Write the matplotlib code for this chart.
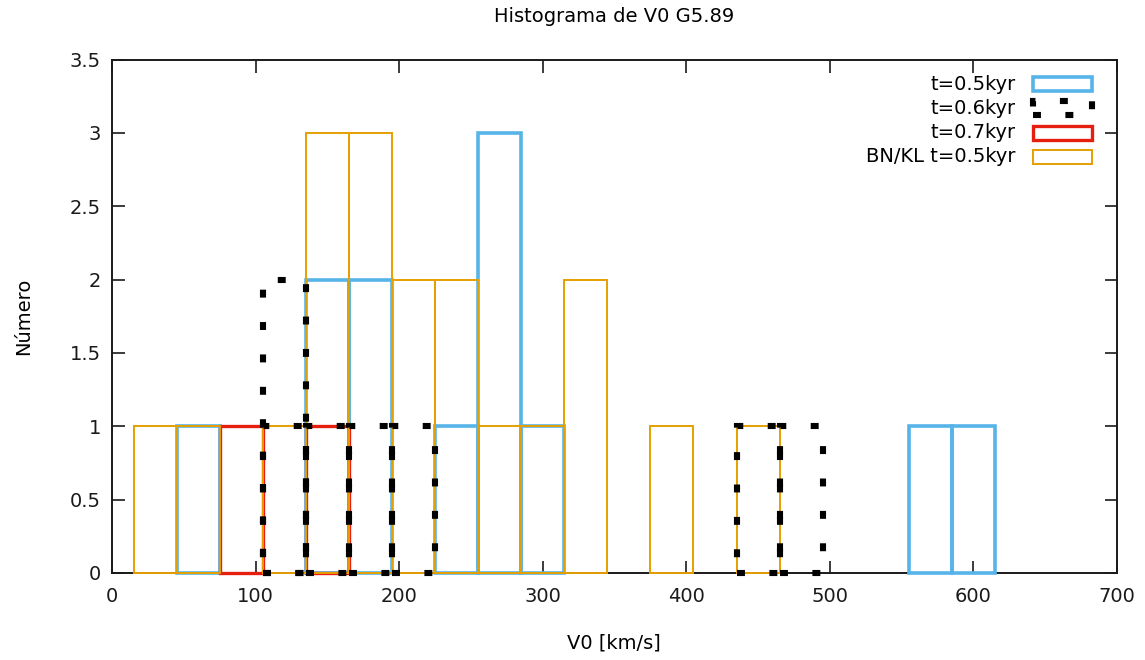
import matplotlib
matplotlib.use("Agg")
import matplotlib.pyplot as plt
from matplotlib.patches import Rectangle

plt.rcParams['font.family'] = ['DejaVu Sans']
plt.rcParams['font.size'] = 14

W, H = 1145, 660
bin_width = 30

# bin centres (km/s) and counts for each run
v_05 = [60, 150, 180, 240, 270, 300, 570, 600]
n_05 = [1, 2, 2, 1, 3, 1, 1, 1]

v_06 = [120, 120, 150, 180, 210, 450, 480]
n_06 = [2, 1, 1, 1, 1, 1, 1]

v_07 = [90, 150]
n_07 = [1, 1]

v_bnkl = [30, 60, 120, 150, 180, 210, 240, 270, 300, 330, 390, 450]
n_bnkl = [1, 1, 1, 3, 3, 2, 2, 1, 1, 2, 1, 1]

labels = ["t=0.5kyr", "t=0.6kyr", "t=0.7kyr", "BN/KL t=0.5kyr"]
xticks = [0, 100, 200, 300, 400, 500, 600, 700]
yticks = [0, 0.5, 1, 1.5, 2, 2.5, 3, 3.5]

blue = "#56b4e9"
red = "#e51e10"
orange = "#e69f00"
dots = (0, (1.3, 4.0))

styles = [
    dict(edgecolor=blue, linewidth=2.6, zorder=2),
    dict(edgecolor="black", linewidth=4.4, linestyle=dots, zorder=5),
    dict(edgecolor=red, linewidth=2.4, zorder=3),
    dict(edgecolor=orange, linewidth=1.4, zorder=4),
]

fig = plt.figure(figsize=(W / 100, H / 100), dpi=100)
ax = fig.add_axes([112 / W, 1 - 573 / H, (1117 - 112) / W, (573 - 59.5) / H])

series = [(v_05, n_05), (v_06, n_06), (v_07, n_07), (v_bnkl, n_bnkl)]
for (v, n), st in zip(series, styles):
    ax.bar(v, n, width=bin_width, fill=False, clip_on=False, **st)

ax.set_xlim(0, 700)
ax.set_ylim(0, 3.5)
ax.set_xticks(xticks)
ax.set_yticks(yticks)
ax.set_yticklabels([f"{t:g}" for t in yticks])
ax.tick_params(direction="in", length=9, width=1.2, top=True, right=True,
               labelsize=14, pad=10, colors="#1a1a1a")
ax.tick_params(axis="y", pad=8)
for s in ax.spines.values():
    s.set_linewidth(1.4)
    s.set_color("#1a1a1a")
    s.set_zorder(1)

fig.text(614 / W, 1 - 16 / H, "Histograma de V0 G5.89", ha="center", va="center", fontsize=14)
fig.text(614 / W, 1 - 643 / H, "V0 [km/s]", ha="center", va="center", fontsize=14)
fig.text(24 / W, 1 - 316 / H, "Número", ha="center", va="center", rotation=90, fontsize=14)

# key, drawn gnuplot-style with text to the left of each sample box
rows = [84, 108, 133, 157]
for lab, y, st in zip(labels, rows, styles):
    fig.text(1016 / W, 1 - y / H, lab, ha="right", va="center", fontsize=14)
    st = dict(st)
    st.pop("zorder")
    fig.add_artist(Rectangle((1033 / W, 1 - (y + 7) / H), 59 / W, 14 / H,
                             transform=fig.transFigure, fill=False, **st))

fig.savefig("out.png", dpi=100)
